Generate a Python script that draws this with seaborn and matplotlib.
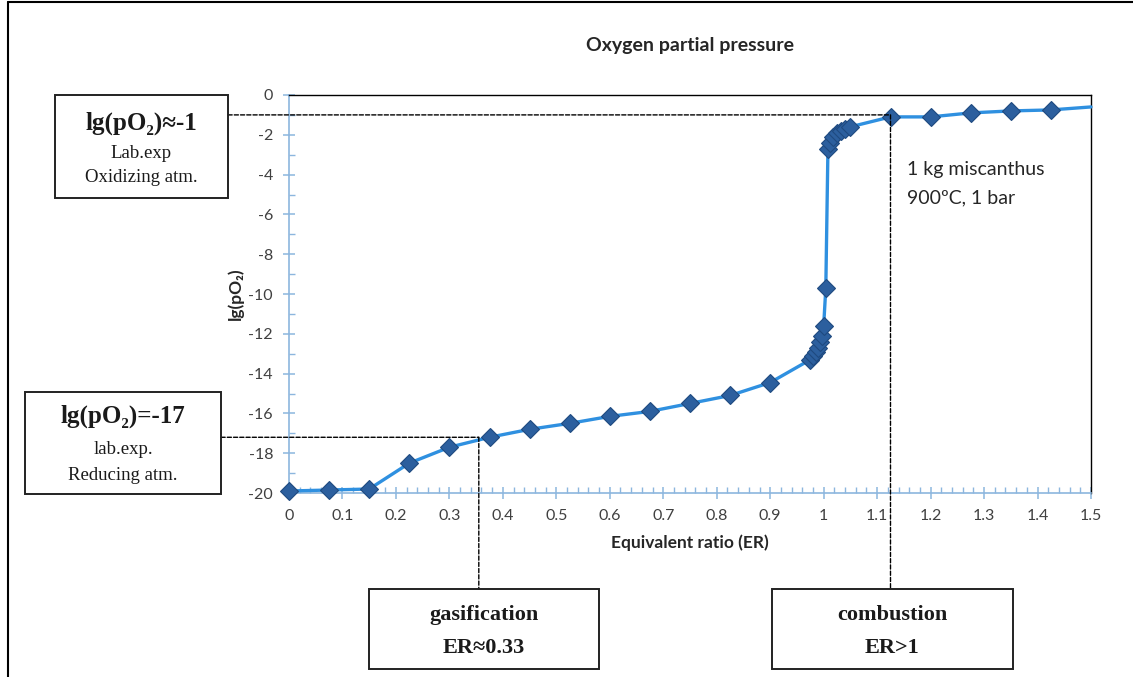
import numpy as np
import pandas as pd
import matplotlib
matplotlib.use("Agg")
import matplotlib.pyplot as plt
import seaborn as sns
from matplotlib.patches import Rectangle, ConnectionPatch
from matplotlib.lines import Line2D
from matplotlib.transforms import blended_transform_factory
from matplotlib.ticker import MultipleLocator

# data
er = [0, 0.075, 0.15, 0.225, 0.30, 0.375, 0.45, 0.525, 0.60, 0.675, 0.75, 0.825, 0.90,
      0.975, 0.98, 0.985, 0.99, 0.993, 0.997, 1.0, 1.004, 1.008, 1.012, 1.018, 1.025,
      1.032, 1.04, 1.05, 1.125, 1.20, 1.275, 1.35, 1.425, 1.5]
lg_po2 = [-19.9, -19.85, -19.8, -18.5, -17.7, -17.2, -16.8, -16.5, -16.15, -15.9, -15.5,
          -15.1, -14.45, -13.3, -13.1, -12.9, -12.7, -12.4, -12.1, -11.6, -9.7, -2.7,
          -2.4, -2.1, -1.9, -1.8, -1.7, -1.6, -1.1, -1.1, -0.9, -0.8, -0.75, -0.6]
x_ticks = [0, 0.1, 0.2, 0.3, 0.4, 0.5, 0.6, 0.7, 0.8, 0.9, 1, 1.1, 1.2, 1.3, 1.4, 1.5]
x_ticklabels = ["0", "0.1", "0.2", "0.3", "0.4", "0.5", "0.6", "0.7", "0.8", "0.9", "1",
                "1.1", "1.2", "1.3", "1.4", "1.5"]
y_ticks = [0, -2, -4, -6, -8, -10, -12, -14, -16, -18, -20]

ox_level = -1.0
red_level = -17.2
gas_er = 0.355
comb_er = 1.125

df = pd.DataFrame({"ER": er, "lg": lg_po2})

sns.set_style("white")
plt.rcParams["font.family"] = ["Lato", "DejaVu Sans"]
plt.rcParams["axes.unicode_minus"] = False
serif = ["Liberation Serif", "DejaVu Serif"]

W, H = 1133, 677
fig = plt.figure(figsize=(W / 100, H / 100), dpi=100)
ax = fig.add_axes([289 / W, 1 - 493 / H, (1091 - 289) / W, (493 - 95) / H])

sns.lineplot(data=df, x="ER", y="lg", ax=ax, color="#2f90e0", linewidth=2.4,
             marker="D", markersize=9, markerfacecolor="#2c5f9e",
             markeredgecolor="#1f4a80", markeredgewidth=0.8,
             markevery=list(range(len(er) - 1)), clip_on=False, zorder=3)

ax.set_xlim(0, 1.5)
ax.set_ylim(-20, 0)
ax.set_xticks(x_ticks)
ax.set_xticklabels(x_ticklabels)
ax.set_yticks(y_ticks)
ax.xaxis.set_minor_locator(MultipleLocator(0.02))
ax.yaxis.set_minor_locator(MultipleLocator(1))

axis_col = "#8cb6de"
for s in ["left", "bottom"]:
    ax.spines[s].set_color(axis_col)
    ax.spines[s].set_linewidth(1.2)
for s in ["top", "right"]:
    ax.spines[s].set_color("black")
    ax.spines[s].set_linewidth(1.0)
ax.tick_params(axis="x", which="both", bottom=True, top=False)
ax.tick_params(axis="y", which="both", left=True, right=False)
ax.tick_params(which="major", direction="inout", length=9, color=axis_col, width=1.1,
               labelsize=11.5, labelcolor="#404040", pad=7)
ax.tick_params(which="minor", direction="in", length=4, color=axis_col, width=1.0)

ax.set_xlabel("Equivalent ratio (ER)", fontsize=12.5, fontweight="bold", labelpad=8)
ax.set_ylabel("lg(pO₂)", fontsize=12.5, fontweight="bold", labelpad=3)
fig.text(690 / W, 1 - 45 / H, "Oxygen partial pressure", ha="center", va="center",
         fontsize=14, fontweight="bold")

ax.text(907 / W, 1 - 170 / H, "1 kg miscanthus", transform=fig.transFigure,
        fontsize=14, color="#262626", va="center", ha="left")
ax.text(907 / W, 1 - 198 / H, "900ºC, 1 bar", transform=fig.transFigure,
        fontsize=14, color="#262626", va="center", ha="left")


def box(x0, y0, x1, y1):
    fig.patches.append(Rectangle((x0 / W, 1 - y1 / H), (x1 - x0) / W, (y1 - y0) / H,
                                 transform=fig.transFigure, fill=False,
                                 edgecolor="#222222", linewidth=1.4))


def txt(x, y, s, size, bold=False):
    fig.text(x / W, 1 - y / H, s, ha="center", va="center", fontsize=size,
             family=serif, fontweight="bold" if bold else "normal", color="#1a1a1a")


# left boxes
box(55, 95, 228, 198)
txt(141, 123, "lg(pO₂)≈-1", 18, True)
txt(141, 153, "Lab.exp", 13.5)
txt(141, 177, "Oxidizing atm.", 13.5)

box(25, 392, 221, 494)
txt(123, 416, "lg(pO₂)=-17", 18, True)
txt(123, 450, "lab.exp.", 13.5)
txt(123, 476, "Reducing atm.", 13.5)

# bottom boxes
box(369, 589, 599, 669)
txt(484, 615, "gasification", 16, True)
txt(484, 648, "ER≈0.33", 16, True)

box(772, 589, 1013, 669)
txt(892, 615, "combustion", 16, True)
txt(892, 648, "ER>1", 16, True)

# dashed guide lines
dash = dict(color="black", linestyle=(0, (3, 1.5)), linewidth=1.0, zorder=1)
xfig_ydata = blended_transform_factory(fig.transFigure, ax.transData)
xdata_yfig = blended_transform_factory(ax.transData, fig.transFigure)
for (xa, ya, xb, yb, ca, cb) in [
    (228 / W, ox_level, comb_er, ox_level, xfig_ydata, ax.transData),
    (comb_er, ox_level, comb_er, 1 - 589 / H, ax.transData, xdata_yfig),
    (221 / W, red_level, gas_er, red_level, xfig_ydata, ax.transData),
    (gas_er, red_level, gas_er, 1 - 589 / H, ax.transData, xdata_yfig),
]:
    cp = ConnectionPatch((xa, ya), (xb, yb), coordsA=ca, coordsB=cb, **dash)
    fig.add_artist(cp)

# outer frame
fig.add_artist(Line2D([8 / W, 8 / W], [0, 1 - 2 / H], transform=fig.transFigure,
                      color="black", linewidth=1.5))
fig.add_artist(Line2D([8 / W, 1], [1 - 2 / H, 1 - 2 / H], transform=fig.transFigure,
                      color="black", linewidth=1.5))

fig.savefig("out.png", dpi=100)
